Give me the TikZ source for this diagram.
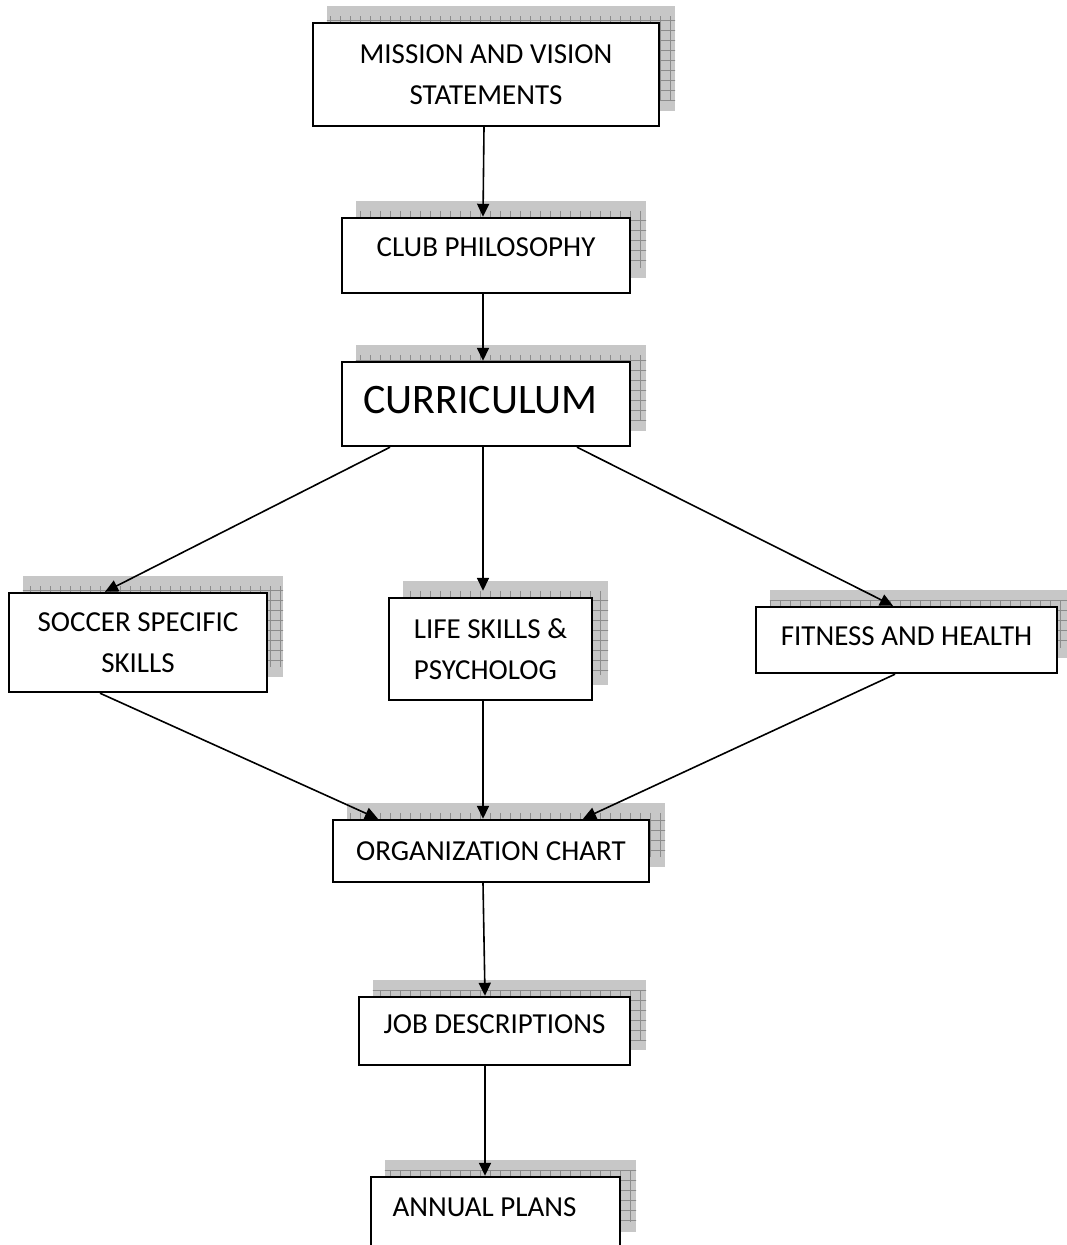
\documentclass[tikz,border=0pt]{standalone}
\usepackage{fontspec}
\setmainfont{Carlito}
\usetikzlibrary{arrows.meta,backgrounds}

\tikzset{
  stepbox/.style={draw,line width=2.4pt,fill=white,rectangle,inner sep=0pt,
    font=\fontsize{29}{41}\selectfont,align=center},
  flow/.style={line width=1.6pt,-{Triangle[length=13pt,width=12pt]}},
  shade/.style={fill=black!22},
  shadegrid/.style={draw=black!45,line width=1pt}
}

\begin{document}
\begin{tikzpicture}[x=1pt,y=-1pt]
       \useasboundingbox (0,0) rectangle (1066,1245);
       % boxes
       \node[stepbox,minimum width=346pt,minimum height=103pt] (mission) at (486,74.5) {MISSION AND VISION\\STATEMENTS};
       \node[stepbox,minimum width=288pt,minimum height=75pt,text depth=16pt] (club) at (486,255.5) {CLUB PHILOSOPHY};
       \node[stepbox,minimum width=288pt,minimum height=84pt,text depth=8pt,font=\fontsize{42}{50}\selectfont] (curr) at (486,404) {\hspace*{-11pt}CURRICULUM};
       \node[stepbox,minimum width=258pt,minimum height=99pt] (soccer) at (138,642.5) {SOCCER SPECIFIC\\SKILLS};
       \node[stepbox,minimum width=203pt,minimum height=102pt,align=left] (life) at (490.5,649) {LIFE SKILLS \&\\PSYCHOLOG};
       \node[stepbox,minimum width=301pt,minimum height=66pt,text depth=8pt] (fitness) at (906.5,640) {FITNESS AND HEALTH};
       \node[stepbox,minimum width=316pt,minimum height=62pt] (org) at (491,851) {ORGANIZATION CHART};
       \node[stepbox,minimum width=271pt,minimum height=68pt,text depth=14pt] (job) at (494.5,1031) {JOB DESCRIPTIONS};
       \node[stepbox,minimum width=249pt,minimum height=70pt,text depth=10pt] (annual) at (495.5,1212) {\hspace*{-22pt}ANNUAL PLANS};
       % shadows
       \begin{scope}[on background layer]
         \foreach \n in {mission,club,curr,soccer,life,fitness,org,job,annual} {
           \fill[shade] ([shift={(15,-16)}]\n.south west) rectangle ([shift={(15,-16)}]\n.north east);
           \begin{scope}
             \clip ([shift={(15,-16)}]\n.south west) rectangle ([shift={(15,-16)}]\n.north east);
             \draw[shadegrid,step=10pt] ([shift={(5,-26)}]\n.south west) grid ([shift={(25,-6)}]\n.north east);
           \end{scope}
         }
       \end{scope}
       % arrows
       \draw[flow] ([xshift=-2pt]mission.south) -- ([xshift=-3pt]club.north);
       \draw[flow] ([xshift=-3pt]club.south) -- ([xshift=-3pt]curr.north);
       \draw[flow] ([xshift=-96pt]curr.south) -- ([xshift=-33pt]soccer.north);
       \draw[flow] ([xshift=-3pt]curr.south) -- ([xshift=-7.5pt,yshift=6pt]life.north);
       \draw[flow] ([xshift=91pt]curr.south) -- ([xshift=-13.5pt]fitness.north);
       \draw[flow] ([xshift=-38pt]soccer.south) -- ([xshift=-113pt]org.north);
       \draw[flow] ([xshift=-7.5pt]life.south) -- ([xshift=-8pt]org.north);
       \draw[flow] ([xshift=-11.5pt]fitness.south) -- ([xshift=92pt]org.north);
       \draw[flow] ([xshift=-8pt]org.south) -- ([xshift=-9.5pt]job.north);
       \draw[flow] ([xshift=-9.5pt]job.south) -- ([xshift=-10.5pt]annual.north);
     \end{tikzpicture}
\end{document}
